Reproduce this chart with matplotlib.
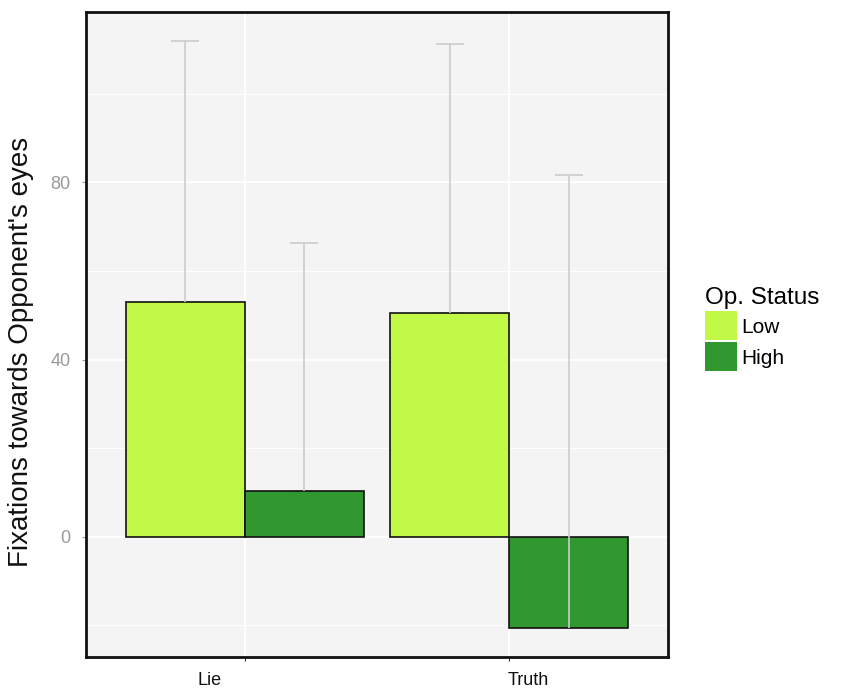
import numpy as np
import matplotlib.pyplot as plt
from matplotlib.patches import Patch
from matplotlib.transforms import ScaledTranslation

plt.rcParams['font.family'] = ['Liberation Sans', 'DejaVu Sans']

conditions = ['Lie', 'Truth']
statuses = ['Low', 'High']
colors = ['#C1F946', '#30982E']

# mean fixations and upper end of the error bar
means = {'Low': [53.1, 50.6], 'High': [10.4, -20.6]}
upper = {'Low': [111.9, 111.3], 'High': [66.3, 81.6]}

fig = plt.figure(figsize=(8.41, 6.89), dpi=100)
ax = fig.add_axes([0.1023, 0.0464, 0.6920, 0.9362])
ax.set_facecolor('#F4F4F4')

x = np.arange(len(conditions)) + 1
width = 0.45
for i, (st, col) in enumerate(zip(statuses, colors)):
    xs = x + (i - 0.5) * width
    ax.bar(xs, means[st], width=width, color=col, edgecolor='#111111',
           linewidth=1.2, zorder=2)
    ax.vlines(xs, means[st], upper[st], color='#CCCCCC', lw=1.2, zorder=3)
    ax.hlines(upper[st], xs - 0.053, xs + 0.053, color='#CCCCCC', lw=1.2, zorder=3)
    ax.hlines(means[st], xs - 0.053, xs + 0.053, color='#CCCCCC', lw=1.2, zorder=1.5)

lo = min(min(means['High']), min(means['Low']), 0)
hi = max(max(upper['Low']), max(upper['High']))
pad = 0.05 * (hi - lo)
ax.set_ylim(lo - pad, hi + pad)
ax.set_xlim(0.4, 2.6)

ax.set_yticks([0, 40, 80])
ax.set_yticks([-20, 20, 60, 100], minor=True)
ax.set_xticks(x)
ax.set_xticklabels(conditions)
ax.grid(True, which='major', color='white', lw=1.4, zorder=0)
ax.grid(True, which='minor', axis='y', color='white', lw=0.8, zorder=0)
ax.set_axisbelow(True)
ax.tick_params(which='minor', length=0)
ax.tick_params(axis='y', which='major', colors='#999999', labelsize=13, length=3,
               width=0.8, pad=8)
ax.tick_params(axis='x', which='major', colors='#333333', labelcolor='#111111',
               labelsize=13, length=3, width=0.8, pad=8)

# nudge the category labels sideways
shifts = [-35, 19]
for lab, dx in zip(ax.get_xticklabels(), shifts):
    lab.set_transform(lab.get_transform() + ScaledTranslation(dx / 100, 0, fig.dpi_scale_trans))

for sp in ax.spines.values():
    sp.set_color('#111111')
    sp.set_linewidth(2)

ax.set_ylabel("Fixations towards Opponent's eyes", fontsize=20, color='#111111')
ax.yaxis.set_label_coords(-0.09, 0.473)

handles = [Patch(facecolor=c, edgecolor='none') for c in colors]
leg = fig.legend(handles, statuses, title='Op. Status', loc='upper left',
                 bbox_to_anchor=(0.826, 0.598), frameon=False, fontsize=15,
                 title_fontsize=17.5, handlelength=1.55, handleheight=1.75,
                 handletextpad=0.2, labelspacing=0.1, borderpad=0)
leg._legend_box.align = 'left'

fig.savefig('out.png', dpi=100)
